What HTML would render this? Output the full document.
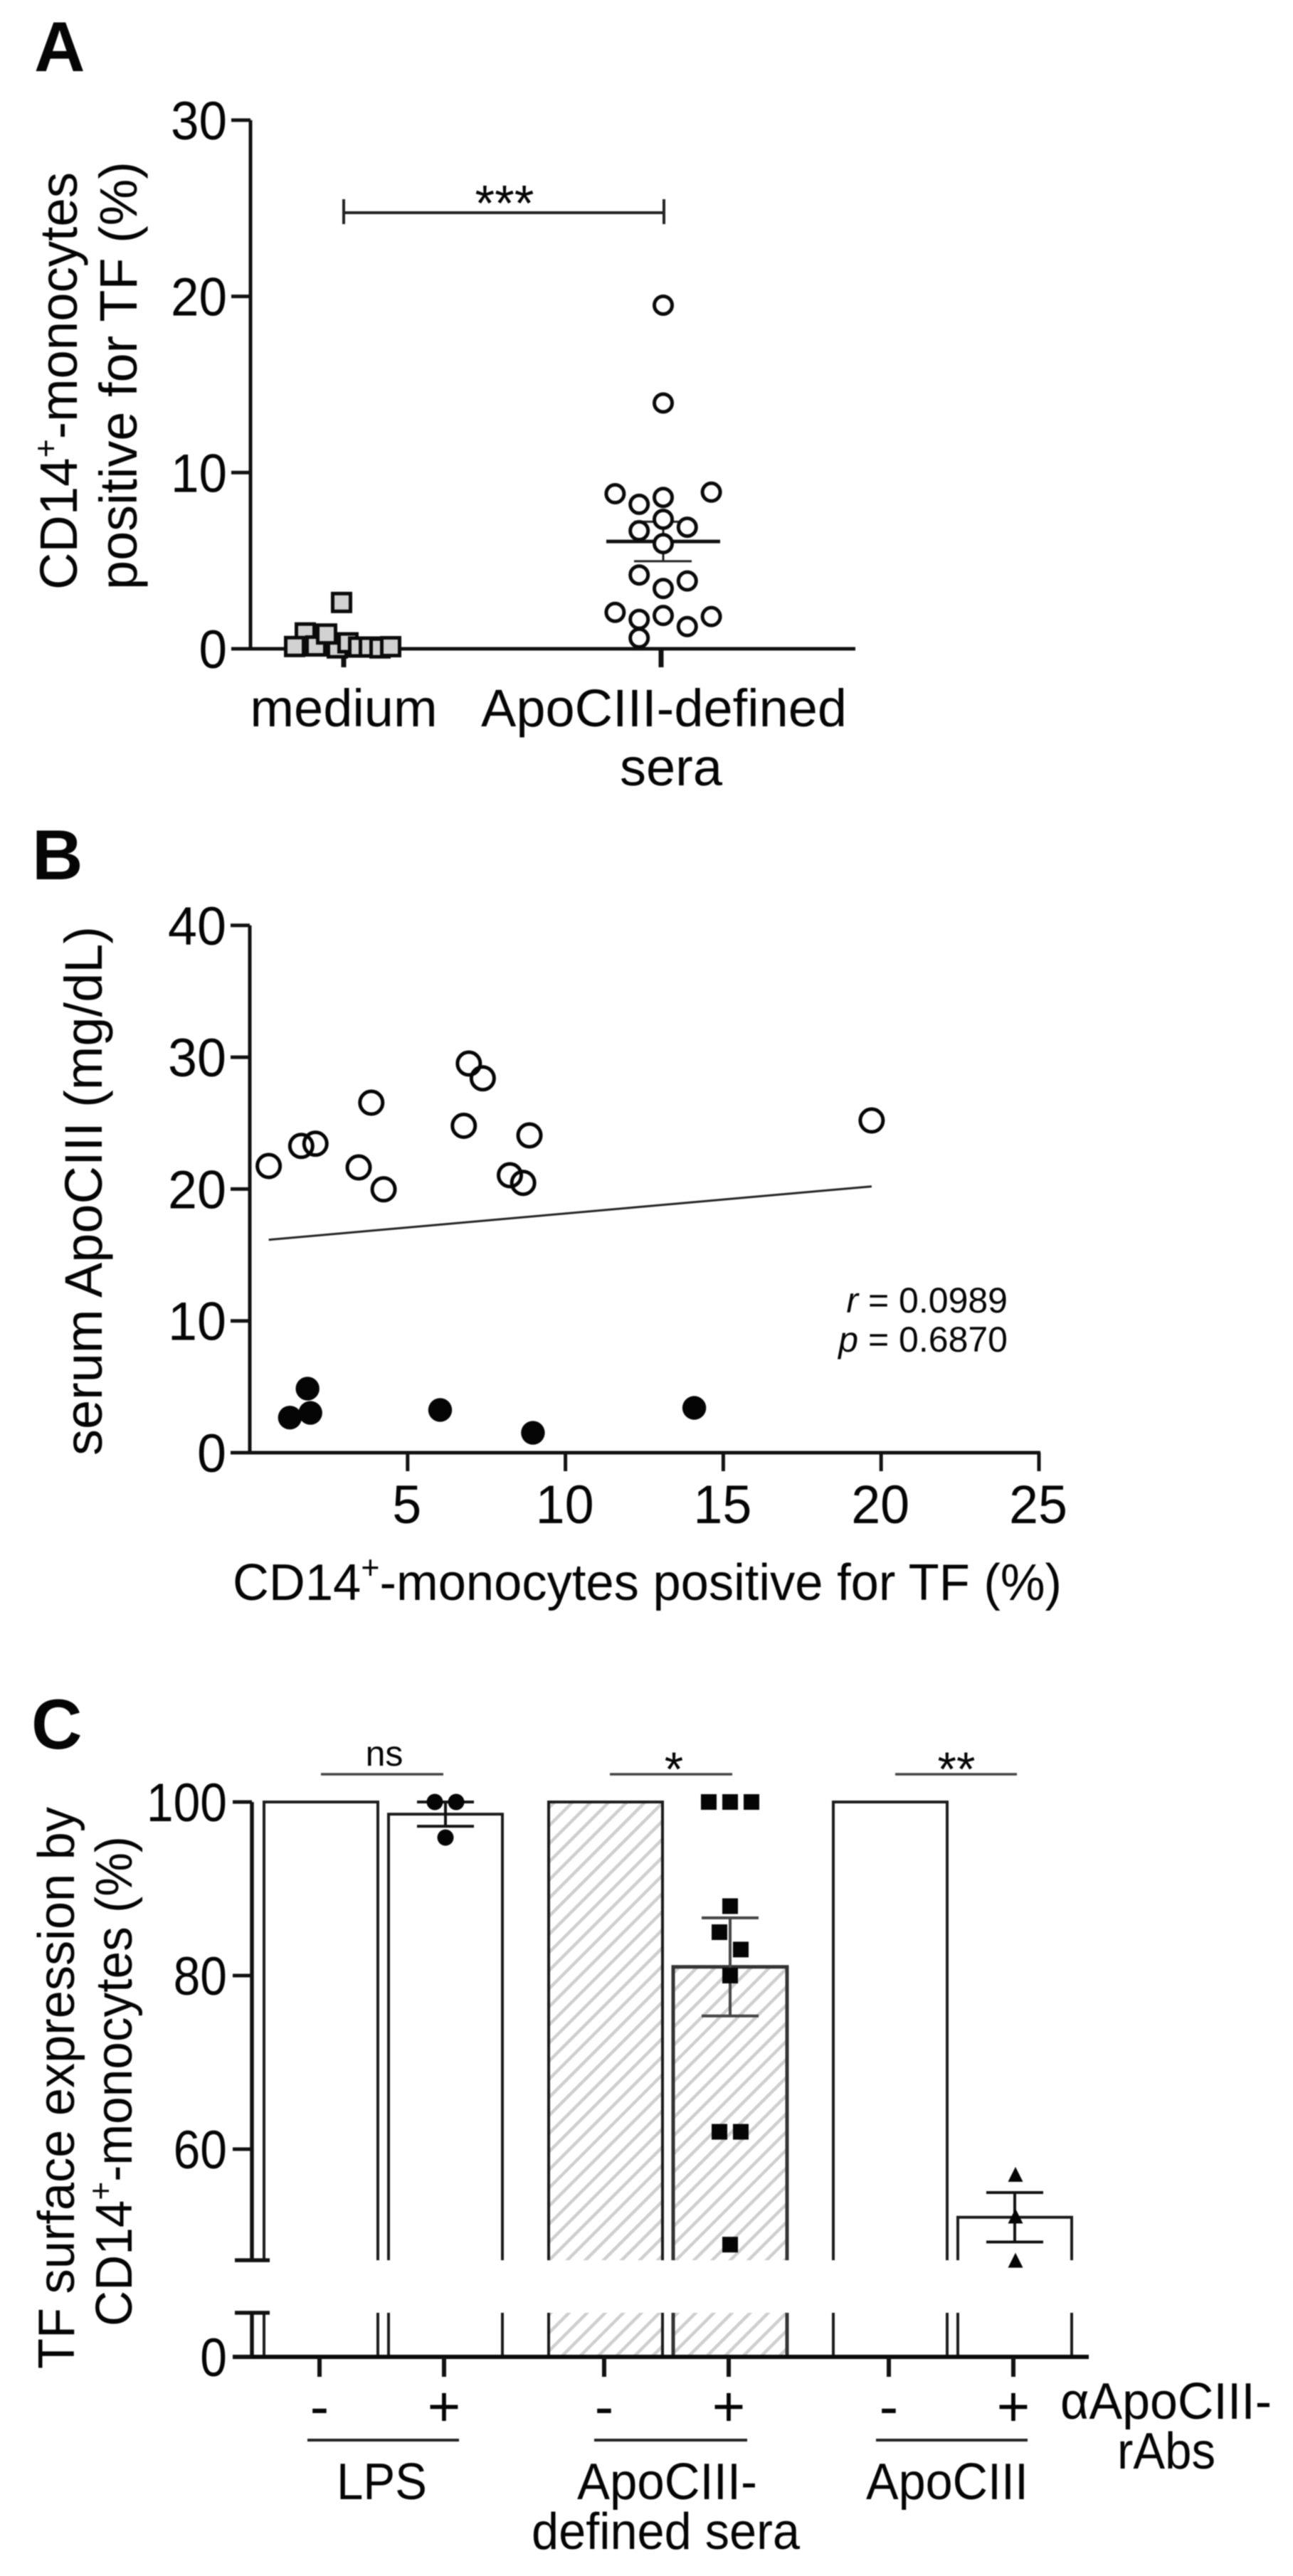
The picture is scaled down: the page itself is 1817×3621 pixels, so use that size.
<!DOCTYPE html>
<html lang="en">
<head>
<meta charset="utf-8">
<title>TF expression on CD14+ monocytes</title>
<style>
html,body{margin:0;padding:0;background:#fff;}
svg{display:block;filter:blur(0.7px);}
text{font-family:"Liberation Sans",sans-serif;fill:#050505;}
</style>
</head>
<body>
<svg id="figure" xmlns="http://www.w3.org/2000/svg" width="1817" height="3621" viewBox="0 0 1817 3621">
  <defs>
    <pattern id="hatch" patternUnits="userSpaceOnUse" width="18" height="18" patternTransform="rotate(45)">
      <rect width="18" height="18" fill="#fff"></rect>
      <rect x="0" y="0" width="4.5" height="18" fill="#cfcfcf"></rect>
    </pattern>
  </defs>
  <rect width="1817" height="3621" fill="#fff"></rect>

  <text x="48" y="100" font-size="99" font-weight="700">A</text>
  <text x="45" y="1236" font-size="99" font-weight="700">B</text>
  <text x="44" y="2458" font-size="99" font-weight="700">C</text>

  <!-- Panel A static text -->
  <text transform="translate(108 829) rotate(-90)" font-size="74" textLength="587" lengthAdjust="spacingAndGlyphs">CD14<tspan font-size="46" dy="-28">+</tspan><tspan dy="28">-monocytes</tspan></text>
  <text transform="translate(192 829) rotate(-90)" font-size="74" textLength="602" lengthAdjust="spacingAndGlyphs">positive for TF (%)</text>
  <text x="483" y="1021" font-size="74" text-anchor="middle">medium</text>
  <text x="676" y="1021" font-size="74" textLength="514" lengthAdjust="spacingAndGlyphs">ApoCIII-defined</text>
  <text x="943" y="1104" font-size="74" text-anchor="middle">sera</text>
  <text x="709" y="310" font-size="71" text-anchor="middle">***</text>
  <path d="M483 280V315M483 299H933M933 280V315" fill="none" stroke="#222" stroke-width="4"></path>

  <!-- Panel B static text -->
  <text transform="translate(143 2046) rotate(-90)" font-size="74" textLength="744" lengthAdjust="spacingAndGlyphs">serum ApoCIII (mg/dL)</text>
  <text x="327" y="2249" font-size="72" textLength="1165" lengthAdjust="spacingAndGlyphs">CD14<tspan font-size="46" dy="-30">+</tspan><tspan dy="30">-monocytes positive for TF (%)</tspan></text>
  <text x="1416" y="1845" font-size="50" text-anchor="end"><tspan font-style="italic">r</tspan> = 0.0989</text>
  <text x="1416" y="1900" font-size="50" text-anchor="end"><tspan font-style="italic">p</tspan> = 0.6870</text>

  <!-- Panel C static text -->
  <text transform="translate(104 3330) rotate(-90)" font-size="72" textLength="790" lengthAdjust="spacingAndGlyphs">TF surface expression by</text>
  <text transform="translate(185 3270) rotate(-90)" font-size="72" textLength="689" lengthAdjust="spacingAndGlyphs">CD14<tspan font-size="46" dy="-28">+</tspan><tspan dy="28">-monocytes (%)</tspan></text>
  <text x="540" y="2482" font-size="50" text-anchor="middle">ns</text>
  <text x="947" y="2510" font-size="68" text-anchor="middle">*</text>
  <text x="1344" y="2510" font-size="68" text-anchor="middle">**</text>
  <line x1="451" y1="2494" x2="623" y2="2494" stroke="#444" stroke-width="3.5"></line>
  <line x1="857" y1="2494" x2="1029" y2="2494" stroke="#444" stroke-width="3.5"></line>
  <line x1="1258" y1="2494" x2="1429" y2="2494" stroke="#444" stroke-width="3.5"></line>
  <line x1="432" y1="3430" x2="645" y2="3430" stroke="#222" stroke-width="4"></line>
  <line x1="835" y1="3430" x2="1050" y2="3430" stroke="#222" stroke-width="4"></line>
  <line x1="1231" y1="3430" x2="1444" y2="3430" stroke="#222" stroke-width="4"></line>
  <text x="473" y="3513" font-size="72" textLength="127" lengthAdjust="spacingAndGlyphs">LPS</text>
  <text x="811" y="3513" font-size="72" textLength="253" lengthAdjust="spacingAndGlyphs">ApoCIII-</text>
  <text x="747" y="3583" font-size="72" textLength="377" lengthAdjust="spacingAndGlyphs">defined sera</text>
  <text x="1217" y="3513" font-size="72" textLength="228" lengthAdjust="spacingAndGlyphs">ApoCIII</text>
  <text x="1490" y="3400" font-size="72" textLength="297" lengthAdjust="spacingAndGlyphs">αApoCIII-</text>
  <text x="1570" y="3470" font-size="72" textLength="138" lengthAdjust="spacingAndGlyphs">rAbs</text>
</svg>

<script>
// ---------- Panel A data ----------
const aYTicks = [0, 10, 20, 30];
const aCategories = ['medium', 'ApoCIII-defined sera'];
const mediumValues = [2.63, 0.9, 0.13, 0.16, 0.05, 0.34, 0.1, 0.1, 0.05, 0.12, 0.84];
const mediumSlots = [0, -3.4, -4.4, -2.4, -0.4, 0.6, 1.6, 2.6, 3.6, 4.6, -1.4];
const seraValues = [19.5, 13.95, 8.8, 8.89, 8.59, 8.2, 7.35, 6.7, 6.9, 5.97, 4.19, 3.85, 3.42, 2.07, 1.89, 1.83, 1.67, 1.26, 0.61];
const seraSlots = [0, 0, -2, 2, 0, -1, 0, -1, 1, 0, -1, 1, 0, -2, 0, 2, -1, 1, -1];
const seraMean = 6.09;
const seraSem = 1.12;

// ---------- Panel B data ----------
const bYTicks = [0, 10, 20, 30, 40];
const bXTicks = [5, 10, 15, 20, 25];
const openX = [0.6, 1.63, 2.08, 3.45, 3.85, 4.24, 6.78, 6.94, 7.38, 8.24, 8.66, 8.86, 19.7];
const openY = [21.75, 23.27, 23.44, 21.64, 26.55, 19.98, 24.8, 29.52, 28.4, 21.05, 20.47, 24.07, 25.2];
const filledX = [1.27, 1.83, 1.92, 6.03, 8.97, 14.08];
const filledY = [2.66, 4.86, 3.02, 3.24, 1.51, 3.4];
const fitX = [0.6, 19.7];
const fitY = [16.15, 20.2];

// ---------- Panel C data ----------
const cYTicks = [0, 60, 80, 100];
const cGroups = ['LPS', 'ApoCIII-defined sera', 'ApoCIII'];
const cTreatments = ['-', '+'];
const barValues = [100, 98.6, 100, 81, 100, 52.15];
const barErrors = [0, 1.4, 0, 5.65, 0, 2.85];
const lpsDots = [100, 100, 95.9];
const lpsSlots = [-1, 1, 0];
const seraDots = [100, 100, 100, 88, 85, 83, 80, 62, 62, 49];
const seraDotSlots = [-2, 0, 2, 0, -1, 1, 0, -1, 1, 0];
const apoDots = [57.1, 52.3, 47.2];

const svg = document.getElementById('figure');
const NS = 'http://www.w3.org/2000/svg';
function mk(tag, attrs) {
  const el = document.createElementNS(NS, tag);
  for (const k in attrs) el.setAttribute(k, attrs[k]);
  svg.appendChild(el);
  return el;
}

// ---------- Axis functions ----------
const aY = v => 912 - v * 24.77;
const aX = i => [483, 932][i];
const bX = v => 351 + v * 44.36;
const bY = v => 2042 - v * 18.53;
const C_BREAK_HIGH = 47.2;
const C_BREAK_LOW = 5;
const cTopY = v => 2533 + (100 - v) * 12.2;
const cLowY = v => 3313 - v * 12.4;
const cY = v => (v > C_BREAK_LOW ? cTopY(v) : cLowY(v));
const cBarCenter = i => 451 + Math.floor(i / 2) * 400 + (i % 2) * 175;

// ---------- Panel A ----------
const aYAxis = mk('line', {x1: 352, y1: aY(30), x2: 352, y2: aY(0), stroke: '#111', 'stroke-width': 5});


const aXAxis = mk('line', {x1: 325, y1: aY(0), x2: 1202, y2: aY(0), stroke: '#111', 'stroke-width': 5});


aYTicks.forEach(t => {
  const tick = mk('line', {x1: 325, y1: aY(t), x2: 352, y2: aY(t), stroke: '#111', 'stroke-width': 5});
  
  
  const lab = mk('text', {x: 319, y: aY(t) + 27, 'font-size': 76, 'text-anchor': 'end', textLength: String(t).length * 39.5, lengthAdjust: 'spacingAndGlyphs'});
  lab.textContent = String(t);
  
  
});
aCategories.forEach((c, i) => {
  const tickX = aX(i) - i * 3;
  const tick = mk('line', {x1: tickX, y1: aY(0), x2: tickX, y2: 938, stroke: '#111', 'stroke-width': 7});
  
  
});
const aMean = mk('line', {x1: aX(1) - 80, y1: aY(seraMean), x2: aX(1) + 80, y2: aY(seraMean), stroke: '#111', 'stroke-width': 5});


const aSem = mk('path', {d: 'M' + (aX(1) - 41) + ' ' + aY(seraMean + seraSem) + 'H' + (aX(1) + 40) + 'M' + aX(1) + ' ' + aY(seraMean + seraSem) + 'V' + aY(seraMean - seraSem) + 'M' + (aX(1) - 41) + ' ' + aY(seraMean - seraSem) + 'H' + (aX(1) + 40), fill: 'none', stroke: '#222', 'stroke-width': 3});


mediumValues.forEach((v, i) => {
  const cx = 480 + mediumSlots[i] * 15;
  const sq = mk('rect', {x: cx - 12.5, y: aY(v) - 12.5, width: 25, height: 25, fill: '#d2d2d2', stroke: '#0a0a0a', 'stroke-width': 5});
  
  
});
seraValues.forEach((v, i) => {
  const c = mk('circle', {cx: aX(1) + seraSlots[i] * 33.8, cy: aY(v), r: 12.5, fill: '#fff', stroke: '#0a0a0a', 'stroke-width': 5});
  
  
});

// ---------- Panel B ----------
const bYAxis = mk('line', {x1: bX(0), y1: bY(40), x2: bX(0), y2: bY(0), stroke: '#111', 'stroke-width': 5});


const bXAxis = mk('line', {x1: 324, y1: bY(0), x2: bX(25) + 2, y2: bY(0), stroke: '#111', 'stroke-width': 5});


bYTicks.forEach(t => {
  const tick = mk('line', {x1: 324, y1: bY(t), x2: bX(0), y2: bY(t), stroke: '#111', 'stroke-width': 5});
  
  
  const lab = mk('text', {x: 318, y: bY(t) + 27, 'font-size': 76, 'text-anchor': 'end', textLength: String(t).length * 41, lengthAdjust: 'spacingAndGlyphs'});
  lab.textContent = String(t);
  
  
});
bXTicks.forEach(t => {
  const tick = mk('line', {x1: bX(t), y1: bY(0), x2: bX(t), y2: 2068, stroke: '#111', 'stroke-width': 5});
  
  
  const lab = mk('text', {x: bX(t) - 1, y: 2141, 'font-size': 76, 'text-anchor': 'middle', textLength: String(t).length * 41, lengthAdjust: 'spacingAndGlyphs'});
  lab.textContent = String(t);
  
  
});
const fit = mk('line', {x1: bX(fitX[0]), y1: bY(fitY[0]), x2: bX(fitX[1]), y2: bY(fitY[1]), stroke: '#222', 'stroke-width': 3});


openX.forEach((x, i) => {
  const c = mk('circle', {cx: bX(x), cy: bY(openY[i]), r: 16, fill: 'none', stroke: '#050505', 'stroke-width': 5});
  
  
});
filledX.forEach((x, i) => {
  const c = mk('circle', {cx: bX(x), cy: bY(filledY[i]), r: 16.7, fill: '#050505'});
  
  
});

// ---------- Panel C ----------
barValues.forEach((v, i) => {
  const cx = cBarCenter(i);
  const left = cx - 80;
  const right = cx + 80;
  const hatched = i === 2 || i === 3;
  const fill = hatched ? 'url(#hatch)' : '#fff';
  const topFill = mk('rect', {x: left, y: cTopY(v), width: 160, height: cTopY(C_BREAK_HIGH) - cTopY(v), fill: fill});
  
  
  const lowFill = mk('rect', {x: left, y: cLowY(C_BREAK_LOW), width: 160, height: cLowY(0) - cLowY(C_BREAK_LOW), fill: fill});
  
  
  const d = 'M' + left + ' ' + cTopY(C_BREAK_HIGH) + 'V' + cTopY(v) + 'H' + right + 'V' + cTopY(C_BREAK_HIGH) +
            'M' + left + ' ' + cLowY(C_BREAK_LOW) + 'V' + cLowY(0) + 'M' + right + ' ' + cLowY(C_BREAK_LOW) + 'V' + cLowY(0);
  const bar = mk('path', {d: d, fill: 'none', stroke: i === 3 ? '#333' : '#1a1a1a', 'stroke-width': i === 3 ? 5 : 4});
  
  
  if (barErrors[i] > 0) {
    const hi = cTopY(v + barErrors[i]);
    const lo = cTopY(v - barErrors[i]);
    const err = mk('path', {d: 'M' + (cx - 40) + ' ' + hi + 'H' + (cx + 40) + 'M' + cx + ' ' + hi + 'V' + lo + 'M' + (cx - 40) + ' ' + lo + 'H' + (cx + 40), fill: 'none', stroke: i === 3 ? '#444' : '#111', 'stroke-width': 4});
    
    
  }
});
const cAxisUpper = mk('line', {x1: 354, y1: cTopY(100), x2: 354, y2: cTopY(C_BREAK_HIGH), stroke: '#111', 'stroke-width': 5.5});


const cAxisLower = mk('line', {x1: 354, y1: cLowY(C_BREAK_LOW), x2: 354, y2: cLowY(0), stroke: '#111', 'stroke-width': 5.5});


const cBreakHigh = mk('line', {x1: 330, y1: cTopY(C_BREAK_HIGH), x2: 379, y2: cTopY(C_BREAK_HIGH), stroke: '#111', 'stroke-width': 5.5});


const cBreakLow = mk('line', {x1: 330, y1: cLowY(C_BREAK_LOW), x2: 379, y2: cLowY(C_BREAK_LOW), stroke: '#111', 'stroke-width': 5.5});


const cXAxis = mk('line', {x1: 327, y1: cLowY(0), x2: 1530, y2: cLowY(0), stroke: '#0a0a0a', 'stroke-width': 6});


cYTicks.forEach(t => {
  const tick = mk('line', {x1: 327, y1: cY(t), x2: 354, y2: cY(t), stroke: '#111', 'stroke-width': 5});
  
  
  const lab = mk('text', {x: 319, y: cY(t) + 27, 'font-size': 76, 'text-anchor': 'end', textLength: String(t).length * 37.7, lengthAdjust: 'spacingAndGlyphs'});
  lab.textContent = String(t);
  
  
});
barValues.forEach((v, i) => {
  const cx = cBarCenter(i) - 2;
  const tick = mk('line', {x1: cx, y1: cLowY(0), x2: cx, y2: 3341, stroke: '#111', 'stroke-width': 6});
  
  
  const sign = mk('text', {x: cx, y: 3410, 'font-size': 80, 'text-anchor': 'middle'});
  sign.textContent = cTreatments[i % 2];
  
  
});
lpsDots.forEach((v, i) => {
  const c = mk('circle', {cx: cBarCenter(1) + lpsSlots[i] * 15, cy: cTopY(v), r: 11.5, fill: '#050505'});
  
  
});
seraDots.forEach((v, i) => {
  const s = mk('rect', {x: cBarCenter(3) + seraDotSlots[i] * 15 - 11, y: cTopY(v) - 11, width: 22, height: 22, fill: '#050505'});
  
  
});
apoDots.forEach(v => {
  const cx = cBarCenter(5) + 1;
  const cy = cTopY(v);
  const t = mk('polygon', {points: (cx - 10.5) + ',' + (cy + 10.5) + ' ' + (cx + 10.5) + ',' + (cy + 10.5) + ' ' + cx + ',' + (cy - 10.5), fill: '#050505'});
  
  
});
</script>
</body>
</html>
